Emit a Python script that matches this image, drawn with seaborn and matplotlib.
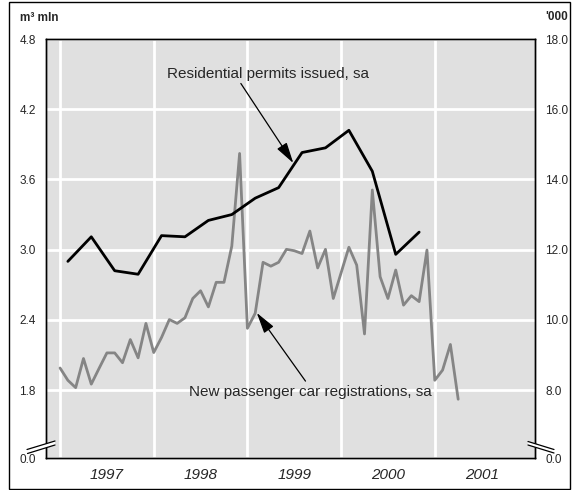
import numpy as np
import pandas as pd
import matplotlib
matplotlib.use("Agg")
import matplotlib.pyplot as plt
import seaborn as sns
from matplotlib.patches import Rectangle, Polygon
from matplotlib.lines import Line2D

# Residential permits issued, sa (m3 mln, quarterly, left axis)
permit_quarters = pd.period_range("1997Q1", "2000Q4", freq="Q")
permits = [2.90, 3.11, 2.82, 2.79, 3.12, 3.11, 3.25, 3.30,
           3.44, 3.53, 3.83, 3.87, 4.02, 3.67, 2.96, 3.15]

# New passenger car registrations, sa ('000, monthly, right axis)
car_months = pd.period_range("1997-01", "2001-04", freq="M")
cars = [8.63, 8.28, 8.07, 8.90, 8.17, 8.62, 9.06, 9.06, 8.78, 9.44, 8.92, 9.90,
        9.07, 9.50, 10.01, 9.90, 10.06, 10.61, 10.83, 10.37, 11.07, 11.07, 12.10, 14.74,
        9.76, 10.19, 11.64, 11.53, 11.64, 12.01, 11.97, 11.89, 12.53, 11.48, 12.01, 10.61,
        11.34, 12.07, 11.56, 9.60, 13.70, 11.23, 10.61, 11.42, 10.42, 10.69, 10.52, 11.99,
        8.28, 8.57, 9.30, 7.74]

years = [1997, 1998, 1999, 2000, 2001]
left_ticks = [1.8, 2.4, 3.0, 3.6, 4.2, 4.8]
right_ticks = [8.0, 10.0, 12.0, 14.0, 16.0, 18.0]

# decimal year positions (quarter plotted at its middle month)
permit_x = [p.year + (p.quarter * 3 - 2) / 12 for p in permit_quarters]
car_x = [m.year + (m.month - 1) / 12 for m in car_months]
permits_df = pd.DataFrame({"x": permit_x, "value": permits})
cars_df = pd.DataFrame({"x": car_x, "value": cars})

sns.set_style("white")
plt.rcParams["font.family"] = ["Liberation Sans", "DejaVu Sans"]

W, H = 575, 490
fig = plt.figure(figsize=(W / 100, H / 100), dpi=100)
# car axis (right ticks) holds background + grid, permit axis sits on top
ax_car = fig.add_axes([46 / W, 1 - 458 / H, (535 - 46) / W, (458 - 39) / H])
ax_per = ax_car.twinx()

# broken axis: bottom of both scales is labelled 0.0
left_lo = 1.22
right_lo = left_lo * 10 / 3 + 2
ax_per.set_ylim(left_lo, 4.8)
ax_car.set_ylim(right_lo, 18.0)
ax_car.set_xlim(1996.85, 2002.07)

ax_car.set_facecolor("#e0e0e0")
sns.lineplot(data=cars_df, x="x", y="value", ax=ax_car, color="#858585", lw=2.0)
sns.lineplot(data=permits_df, x="x", y="value", ax=ax_per, color="black", lw=2.0)

# ticks / grid
ax_car.yaxis.tick_right()
ax_per.yaxis.tick_left()
ax_car.set_yticks([right_lo] + right_ticks)
ax_car.set_yticklabels(["0.0"] + [f"{v:.1f}" for v in right_ticks])
ax_per.set_yticks([left_lo] + left_ticks)
ax_per.set_yticklabels(["0.0"] + [f"{v:.1f}" for v in left_ticks])

ax_car.set_xticks(years)
ax_car.set_xticklabels([])
ax_car.set_xticks([y + 0.5 for y in years], minor=True)
ax_car.set_xticklabels([str(y) for y in years], minor=True, fontstyle="italic", fontsize=11)
ax_car.tick_params(axis="x", which="both", length=0, pad=7)
ax_car.tick_params(axis="y", length=0, pad=7.5, labelsize=8.5)
ax_per.tick_params(axis="y", length=0, pad=7.5, labelsize=8.5)
ax_car.grid(True, which="major", color="white", lw=2)
ax_per.grid(False)
for a in (ax_car, ax_per):
    a.set_xlabel("")
    a.set_ylabel("")
    for s in a.spines.values():
        s.set_color("black")
        s.set_linewidth(1.0)

# annotations
arrow = dict(arrowstyle="-|>,head_length=0.8,head_width=0.22", color="black", lw=0.9,
             mutation_scale=16, shrinkA=0, shrinkB=0)
ax_per.text(1998.14, 4.50, "Residential permits issued, sa", fontsize=11,
            ha="left", va="center")
ax_per.annotate("", xy=(1999.49, 3.74), xytext=(1998.93, 4.42), arrowprops=arrow)
ax_per.text(1998.376, 1.786, "New passenger car registrations, sa", fontsize=11,
            ha="left", va="center")
ax_per.annotate("", xy=(1999.10, 2.46), xytext=(1999.62, 1.877), arrowprops=arrow)

# unit labels
fig.text(20.5 / W, 1 - 18 / H, "m³ mln", fontsize=8.5, fontweight="bold", va="center", ha="left")
fig.text(545.5 / W, 1 - 17 / H, "'000", fontsize=8.5, fontweight="bold", va="center", ha="left")


def fpt(x, y):
    # pixel position -> figure fraction
    return (x / W, 1 - y / H)


def axis_break(upper, lower):
    fig.patches.append(Polygon(upper + lower[::-1], closed=True, facecolor="white",
                               edgecolor="none", transform=fig.transFigure, zorder=5))
    for pts in (upper, lower):
        fig.lines.append(Line2D([p[0] for p in pts], [p[1] for p in pts], color="black",
                                lw=0.9, transform=fig.transFigure, zorder=6))


axis_break([fpt(27, 449.5), fpt(55, 441)], [fpt(27.5, 453.5), fpt(55, 445)])
axis_break([fpt(528, 441.5), fpt(554, 449.5)], [fpt(528, 445), fpt(554, 453)])

# outer frame
fig.patches.append(Rectangle((9 / W, 1 / H), (570 - 9) / W, (489 - 2) / H, fill=False,
                             edgecolor="black", lw=1.0, transform=fig.transFigure))

fig.savefig("out.png", dpi=100)
